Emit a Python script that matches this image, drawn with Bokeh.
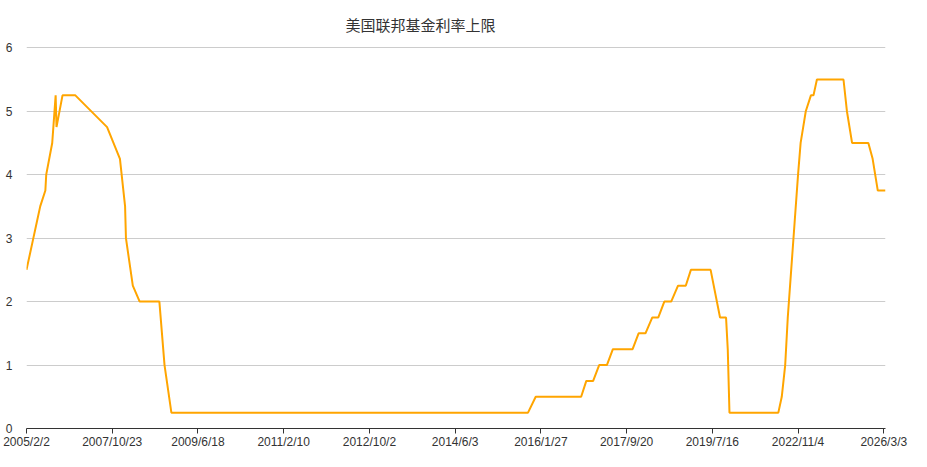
from bokeh.plotting import figure
from bokeh.models import Range1d, FixedTicker
from bokeh.embed import file_html
from bokeh.resources import INLINE

title_text = "美国联邦基金利率上限"

# labelled category dates (every `label_every` positions on the category axis)
tick_labels = ["2005/2/2", "2007/10/23", "2009/6/18", "2011/2/10", "2012/10/2",
               "2014/6/3", "2016/1/27", "2017/9/20", "2019/7/16", "2022/11/4", "2026/3/3"]
label_every = 100
last_position = 1002

# series: position on the category axis and the upper bound of the fed funds rate (%)
point_pos = [0, 8, 12, 16, 22, 23, 30, 34, 35, 42, 57, 94, 109, 115, 116, 124, 132, 155,
             161, 169, 585, 594, 647, 653, 661, 668, 677, 684, 707, 714, 722, 730, 737,
             744, 752, 760, 769, 775, 798, 809, 816, 818, 820, 877, 881, 885, 888, 892,
             896, 900, 903, 906, 909, 915, 918, 922, 953, 957, 963, 982, 987, 993, 1002]
rate_upper = [2.5, 3.0, 3.25, 3.5, 3.75, 4.0, 4.5, 5.25, 4.75, 5.25, 5.25, 4.75, 4.25, 3.5,
              3.0, 2.25, 2.0, 2.0, 1.0, 0.25, 0.25, 0.5, 0.5, 0.75, 0.75, 1.0, 1.0, 1.25,
              1.25, 1.5, 1.5, 1.75, 1.75, 2.0, 2.0, 2.25, 2.25, 2.5, 2.5, 1.75, 1.75, 1.25,
              0.25, 0.25, 0.5, 1.0, 1.75, 2.5, 3.25, 4.0, 4.5, 4.75, 5.0, 5.25, 5.25, 5.5,
              5.5, 5.0, 4.5, 4.5, 4.25, 3.75, 3.75]

y_ticks = [0, 1, 2, 3, 4, 5, 6]

TITLE_FONT = "Noto Sans CJK SC"
FONT = "Liberation Sans"

p = figure(width=911, height=451, output_backend="svg", toolbar_location=None,
           x_range=Range1d(0, last_position),
           y_range=Range1d(y_ticks[0], y_ticks[-1] + 0.02),
           min_border_left=26, min_border_right=26, min_border_top=45, min_border_bottom=0)

p.line(point_pos, rate_upper, line_color="#FFA500", line_width=2)

p.title.text = title_text
p.title.align = "left"
p.title.offset = 319
p.title.text_font = TITLE_FONT
p.title.text_font_size = "15px"
p.title.text_font_style = "normal"
p.title.text_color = "#333333"
p.title.standoff = 23

p.outline_line_color = None
p.xgrid.grid_line_color = None
p.ygrid.grid_line_color = "#cccccc"
p.ygrid.grid_line_width = 1

tick_pos = [i * label_every for i in range(len(tick_labels))]
p.xaxis.ticker = FixedTicker(ticks=tick_pos)
p.xaxis.major_label_overrides = {tp: lab for tp, lab in zip(tick_pos, tick_labels)}
p.xaxis.axis_line_color = "#333333"
p.xaxis.major_tick_line_color = "#333333"
p.xaxis.major_tick_out = 5
p.xaxis.major_tick_in = 0
p.xaxis.minor_tick_line_color = None
p.xaxis.major_label_standoff = 1
p.xaxis.major_label_text_font = FONT
p.xaxis.major_label_text_font_size = "12px"
p.xaxis.major_label_text_color = "#333333"

p.yaxis.ticker = FixedTicker(ticks=y_ticks)
p.yaxis.axis_line_color = None
p.yaxis.major_tick_line_color = None
p.yaxis.minor_tick_line_color = None
p.yaxis.major_label_standoff = 8
p.yaxis.major_label_text_font = FONT
p.yaxis.major_label_text_font_size = "12px"
p.yaxis.major_label_text_color = "#333333"

open("out.html", "w").write(file_html(p, INLINE))
